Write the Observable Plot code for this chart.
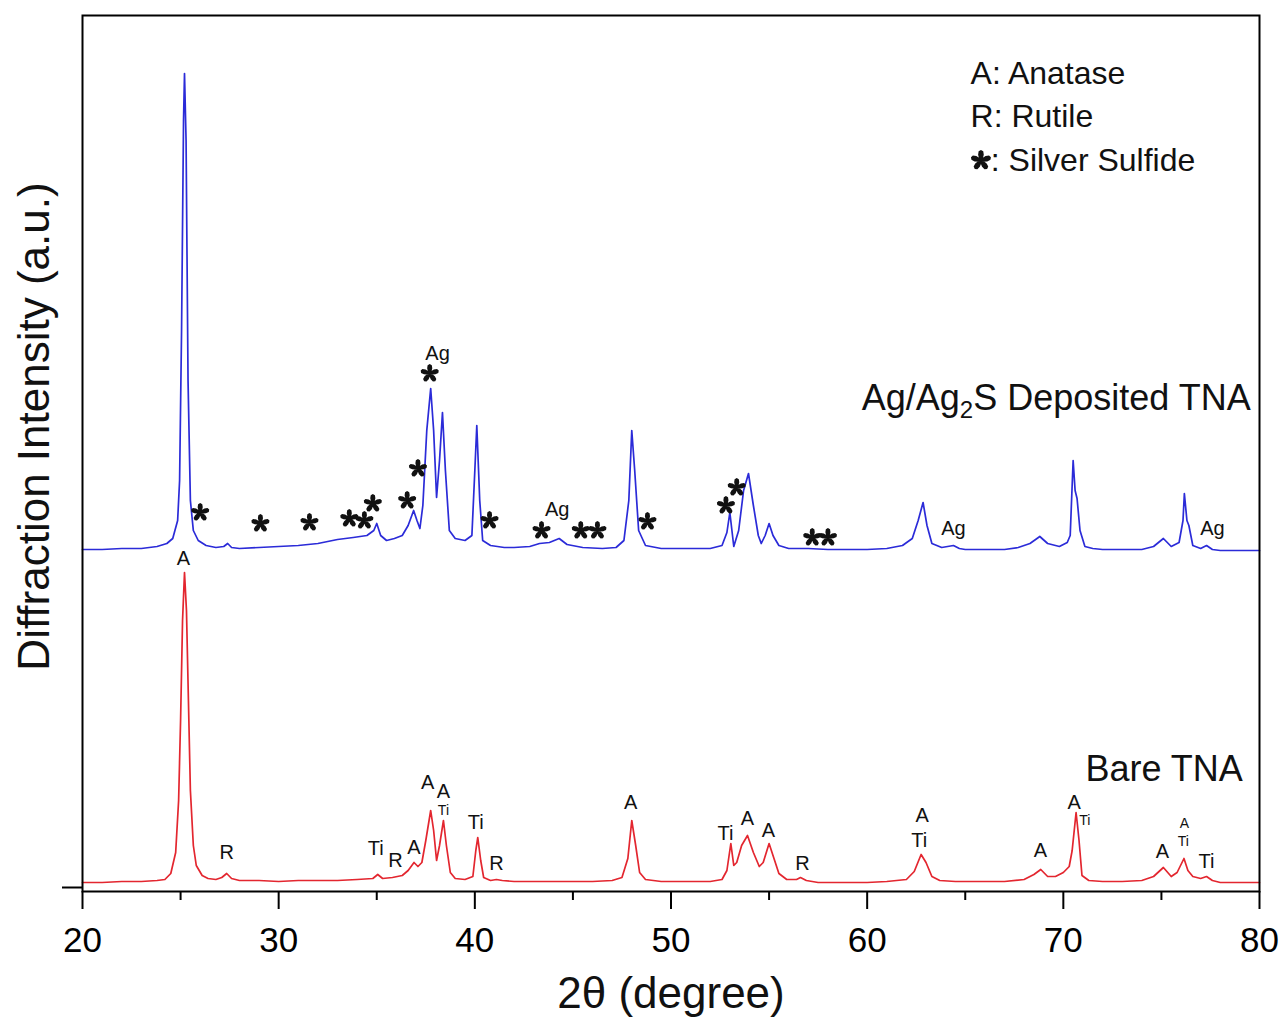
<!DOCTYPE html>
<html>
<head>
<meta charset="utf-8">
<script src="https://cdn.jsdelivr.net/npm/d3@7"></script>
<script src="https://cdn.jsdelivr.net/npm/@observablehq/plot@0.6"></script>
<style>
  html, body { margin: 0; padding: 0; background: #fff; }
</style>
</head>
<body>
<div id="chart"></div>
<script>
// ---- Data ----
// Bare TNA (red), 2θ in degrees and intensity (a.u.)
const bareTheta = [20,21,22,23,23.8,24.2,24.5,24.75,24.9,25.0,25.1,25.2,25.3,25.4,25.5,25.65,25.8,26.1,26.4,26.8,27.1,27.35,27.6,28,29,30,31,32,33,34,34.8,35.05,35.3,35.8,36.3,36.6,36.9,37.1,37.3,37.5,37.75,37.9,38.05,38.2,38.4,38.55,38.75,39,39.5,39.9,40.05,40.15,40.3,40.45,40.8,41.1,41.4,42,43,44,45,46,47,47.5,47.8,48.0,48.2,48.4,48.7,49.5,50,51,52,52.6,52.85,53.05,53.2,53.35,53.6,53.9,54.2,54.5,54.7,55.0,55.25,55.5,55.9,56.4,56.6,56.9,57.5,58,59,60,61,62,62.4,62.75,63.0,63.3,63.7,64.5,65,66,67,68,68.5,68.85,69.2,69.6,70.0,70.3,70.45,70.65,70.8,70.95,71.3,72,73,74,74.6,75.1,75.5,75.8,76.15,76.35,76.6,77,77.3,77.6,78,79,80];
const bareIntensity = [5,5,6,6,7,8,14,35,87,167,267,315,277,187,97,42,22,12,9,8,10,14,9,7,7,6,7,7,7,8,9,13,9,10,12,17,25,21,25,47,77,57,27,42,67,42,15,9,8,11,37,50,27,10,7,8,7,6,6,6,6,6,7,10,29,67,42,15,8,6,6,6,6,8,17,44,22,25,42,52,35,21,25,44,29,14,8,8,10,7,5,5,5,5,6,8,16,33,25,11,7,6,6,6,6,8,13,18,11,11,15,21,37,75,47,12,7,6,6,7,11,20,11,15,29,17,11,9,11,7,5,5,5];

// Ag/Ag2S deposited TNA (blue)
const agTheta = [20,21,22,23,23.8,24.3,24.6,24.85,24.95,25.05,25.15,25.2,25.28,25.38,25.5,25.65,25.9,26.3,26.8,27.2,27.4,27.6,28,29,30,31,32,33,33.8,34.5,34.85,35.0,35.2,35.5,35.9,36.3,36.6,36.88,37.05,37.2,37.35,37.55,37.75,37.9,38.05,38.2,38.35,38.5,38.7,39,39.5,39.85,40.0,40.1,40.25,40.4,40.8,41.5,42,42.8,43.3,43.8,44.3,44.7,45.5,46.5,47.2,47.6,47.85,48.0,48.15,48.35,48.7,49.5,50,51,52,52.6,52.85,53.0,53.2,53.45,53.7,53.95,54.2,54.45,54.6,54.8,55.0,55.2,55.5,56,57,58,59,60,61,61.8,62.3,62.6,62.85,63.05,63.3,63.8,64.4,64.7,65,66,67,67.7,68.3,68.8,69.2,69.8,70.2,70.35,70.5,70.6,70.7,70.85,71.1,71.5,72,73,74,74.6,75.1,75.5,75.9,76.1,76.17,76.3,76.4,76.6,77,77.3,77.6,78,79,80];
const agIntensity = [338,338,339,339,341,344,349,367,407,557,767,814,747,507,387,357,347,342,340,341,344,340,339,340,341,342,344,348,350,352,357,364,352,347,349,352,362,377,367,359,382,457,499,457,390,427,475,417,357,349,347,352,417,462,387,347,342,340,340,341,344,345,349,343,340,339,340,347,387,457,417,357,342,339,339,339,339,342,355,375,341,357,397,414,382,352,344,352,364,352,342,339,339,338,338,338,339,342,349,367,385,362,344,340,342,339,338,338,338,340,344,351,344,341,345,352,427,397,389,357,341,339,338,338,338,341,349,341,345,367,394,367,362,342,339,342,338,337,337,337];

// Phase labels (text, 2θ, intensity)
const phaseText  = ["A","R","Ti","R","A","A","A","Ti","R","A","Ti","A","A","R","A","Ti","A","A","A","Ti"];
const phaseTheta = [25.15,27.35,34.95,35.95,36.9,37.6,38.4,40.05,41.1,47.95,52.78,53.9,54.97,56.7,62.8,62.65,68.83,70.55,75.05,77.3];
const phaseValue = [329,35,39,27,40,105,96,65,24,85,54,69,57,24,72,47,37,85,36,26];

const smallText  = ["Ti","Ti","Ti","A"];
const smallTheta = [38.4,71.1,76.12,76.17];
const smallValue = [77,67,46,64];

const agLabelTheta = [38.1,44.2,64.4,77.6];
const agLabelValue = [534,378,359,359];

// Silver sulfide markers
const starTheta = [26.0,29.07,31.57,33.6,34.37,34.8,36.55,37.1,37.7,40.75,43.4,45.4,46.25,48.8,52.8,53.35,57.2,58.0];
const starValue = [375,364,365,369,367,384,387,419,514,367,357,357,357,366,382,400,350,350];

// Series names and legend
const seriesNames = ["Ag/Ag2S Deposited TNA", "Bare TNA"];
const seriesTheta = [79.55, 79.15];
const seriesValue = [489, 118];

const legendText  = ["A: Anatase", "R: Rutile", ": Silver Sulfide"];
const legendTheta = [65.27, 65.27, 66.3];
const legendValue = [814, 771, 727];
const legendStarTheta = [65.8];
const legendStarValue = [727];

const majorTicks = [20, 30, 40, 50, 60, 70, 80];
const minorTicks = [25, 35, 45, 55, 65, 75];

// ---- Build tables ----
const bare = bareTheta.map((t, i) => ({t, v: bareIntensity[i]}));
const ag = agTheta.map((t, i) => ({t, v: agIntensity[i]}));
const phase = phaseText.map((s, i) => ({s, t: phaseTheta[i], v: phaseValue[i]}));
const small = smallText.map((s, i) => ({s, t: smallTheta[i], v: smallValue[i]}));
const agLab = agLabelTheta.map((t, i) => ({s: "Ag", t, v: agLabelValue[i]}));
const stars = starTheta.map((t, i) => ({t, v: starValue[i]}));
const series = seriesNames.map((s, i) => ({s, t: seriesTheta[i], v: seriesValue[i]}));
const legend = legendText.map((s, i) => ({s, t: legendTheta[i], v: legendValue[i]}));
const legendStar = legendStarTheta.map((t, i) => ({t, v: legendStarValue[i]}));

// Five-armed asterisk symbol
const star5 = {
  draw(context, size) {
    const R = Math.sqrt(size / Math.PI);
    const shape = [[0,-0.13],[0.55,-0.27],[0.88,-0.22],[1.0,0],[0.88,0.22],[0.55,0.27],[0,0.13]];
    for (let k = 0; k < 5; ++k) {
      const a = -Math.PI / 2 + k * 2 * Math.PI / 5;
      const c = Math.cos(a), s = Math.sin(a);
      shape.forEach(([u, w], j) => {
        const px = R * (u * c - w * s), py = R * (u * s + w * c);
        if (j === 0) context.moveTo(px, py); else context.lineTo(px, py);
      });
      context.closePath();
    }
  }
};

const font = "'Liberation Sans', Arial, sans-serif";

const chart = Plot.plot({
  width: 1282,
  height: 1032,
  marginLeft: 82,
  marginRight: 23,
  marginTop: 15,
  marginBottom: 141,
  x: {domain: [20, 80]},
  y: {domain: [-4, 872]},
  style: {fontFamily: font, background: "white", color: "black"},
  marks: [
    Plot.axisX(majorTicks, {tickSize: 18, tickPadding: 18, fontSize: 35, strokeWidth: 2, label: null}),
    Plot.axisX(minorTicks, {tickSize: 9, tickFormat: () => "", strokeWidth: 2, label: null}),
    Plot.axisY([0], {tickSize: 20, tickFormat: () => "", strokeWidth: 2, label: null}),
    Plot.line(bare, {x: "t", y: "v", stroke: "#e3262f", strokeWidth: 1.7}),
    Plot.line(ag, {x: "t", y: "v", stroke: "#2b2bd8", strokeWidth: 1.7}),
    Plot.frame({stroke: "black", strokeWidth: 2}),
    Plot.text(phase, {x: "t", y: "v", text: "s", fontSize: 20, fill: "#111"}),
    Plot.text(small, {x: "t", y: "v", text: "s", fontSize: 14, fill: "#111"}),
    Plot.text(agLab, {x: "t", y: "v", text: "s", fontSize: 20, fill: "#111"}),
    Plot.dot(stars, {x: "t", y: "v", r: 9.5, symbol: star5, fill: "#111", stroke: null}),
    Plot.text(series, {x: "t", y: "v", text: "s", fontSize: 36, textAnchor: "end", fill: "#111"}),
    Plot.text(legend, {x: "t", y: "v", text: "s", fontSize: 32, textAnchor: "start", fill: "#111"}),
    Plot.dot(legendStar, {x: "t", y: "v", r: 10.5, symbol: star5, fill: "#111", stroke: null}),
    Plot.text(["2θ (degree)"], {text: d => d, frameAnchor: "bottom", textAnchor: "middle", dy: 116, fontSize: 44, fill: "#111"}),
    Plot.text(["Diffraction Intensity (a.u.)"], {text: d => d, frameAnchor: "left", textAnchor: "middle", rotate: -90, dx: -48, dy: -27, fontSize: 44, fill: "#111"})
  ]
});

// Subscript in "Ag/Ag2S"
d3.select(chart).selectAll("text").filter(function() {
  return this.textContent === "Ag/Ag2S Deposited TNA";
}).each(function() {
  const t = d3.select(this);
  t.text("");
  t.append("tspan").text("Ag/Ag");
  t.append("tspan").attr("dy", 8).attr("font-size", 24).text("2");
  t.append("tspan").attr("dy", -8).text("S Deposited TNA");
});

document.getElementById("chart").appendChild(chart);
</script>
</body>
</html>
